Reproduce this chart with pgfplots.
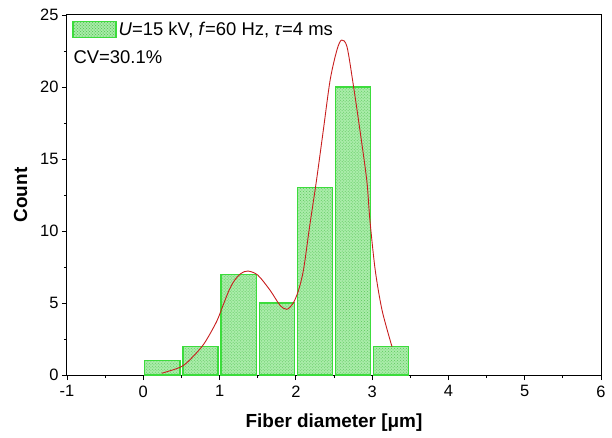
\documentclass[border=0pt]{standalone}
\usepackage{fontspec}
\setmainfont{Liberation Sans}
\usepackage{pgfplots}
\pgfplotsset{compat=1.18}
\usetikzlibrary{patterns}
\definecolor{baredge}{RGB}{60,220,60}
\definecolor{barfill}{RGB}{170,236,170}
\definecolor{barpat}{RGB}{90,200,90}
\definecolor{curve}{RGB}{200,30,30}
\begin{document}
\begin{tikzpicture}
\begin{axis}[
  scale only axis, width=534bp, height=360bp,
  at={(0,0)}, anchor=south west,
  xmin=-1, xmax=6, ymin=0, ymax=25,
  xtick={-1,0,...,6}, ytick={0,5,...,25},
  minor x tick num=1, minor y tick num=1,
  xtick pos=bottom, ytick pos=left,
  tick align=outside,
  major tick length=5bp, minor tick length=3bp,
  axis line style={line width=1bp},
  tick style={line width=0.8bp, black},
  /pgf/number format/assume math mode=true,
  ticklabel style={font=\fontsize{16.5}{18}\selectfont},
  xticklabel style={yshift=-2bp},
  xlabel={\textbf{Fiber diameter [μm]}},
  ylabel={\textbf{Count}},
  label style={font=\fontsize{19}{21}\selectfont},
  xlabel style={yshift=-10bp},
  ylabel style={yshift=6bp},
  legend style={at={(0.008,0.99)}, anchor=north west, draw=none, fill=none,
    font=\fontsize{18.5}{20}\selectfont, inner sep=1bp},
  legend cell align=left,
]
\addplot[ybar, bar width=0.46, draw=baredge, line width=1.2bp, fill=barfill,
  postaction={pattern=crosshatch dots, pattern color=barpat},
  legend image code/.code={\draw[draw=baredge, line width=1.2bp, fill=barfill,
    postaction={pattern=crosshatch dots, pattern color=barpat}] (0bp,-8bp) rectangle (43bp,8bp);}]
 coordinates {(0.25,1) (0.75,2) (1.25,7) (1.75,5) (2.25,13) (2.75,20) (3.25,2)};
\addlegendentry{\textit{U}=15 kV, \textit{f}=60 Hz, \textit{τ}=4 ms}
\addplot[curve, line width=0.9bp, smooth, forget plot] coordinates {
 (0.24,0.12) (0.50,0.58) (0.65,1.27) (0.80,2.2) (0.96,3.7) (1.05,4.9) (1.13,5.95)
 (1.20,6.6) (1.28,7.05) (1.37,7.22) (1.50,6.94) (1.66,5.9) (1.79,4.86) (1.88,4.56)
 (1.96,4.95) (2.03,5.8) (2.10,7.3) (2.18,10.3) (2.27,13.5) (2.36,17.0)
 (2.45,20.5) (2.54,22.6) (2.60,23.26) (2.67,22.8) (2.75,20.25) (2.84,17.0)
 (2.93,13.5) (2.97,10.8) (3.04,7.3) (3.13,4.5) (3.26,1.97)};
\node[anchor=west, font=\fontsize{18.5}{20}\selectfont, inner sep=0pt] at (rel axis cs:0.012,0.883) {CV=30.1\%};
\end{axis}
\path[use as bounding box] (-67bp,-63bp) rectangle (545bp,375bp);
\end{tikzpicture}
\end{document}
